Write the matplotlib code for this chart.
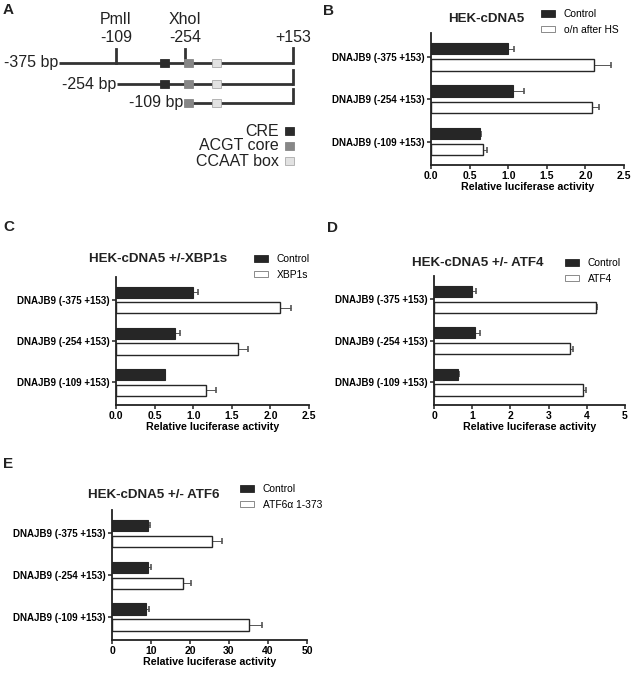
import matplotlib
matplotlib.use("Agg")
import matplotlib.pyplot as plt
from matplotlib.patches import Patch, Rectangle
import numpy as np

plt.rcParams["font.family"] = ["Liberation Sans", "DejaVu Sans"]

# ---- data -------------------------------------------------------------
constructs = ["DNAJB9 (-375 +153)", "DNAJB9 (-254 +153)", "DNAJB9 (-109 +153)"]

b_ctrl = [1.00, 1.06, 0.63]
b_ctrl_err = [0.08, 0.15, 0.015]
b_treat = [2.11, 2.08, 0.68]
b_treat_err = [0.22, 0.10, 0.05]

c_ctrl = [1.00, 0.76, 0.63]
c_ctrl_err = [0.065, 0.07, 0.01]
c_treat = [2.13, 1.58, 1.16]
c_treat_err = [0.14, 0.13, 0.14]

d_ctrl = [1.00, 1.07, 0.64]
d_ctrl_err = [0.09, 0.13, 0.01]
d_treat = [4.25, 3.56, 3.91]
d_treat_err = [0.02, 0.09, 0.06]

e_ctrl = [9.2, 9.2, 8.6]
e_ctrl_err = [0.5, 0.7, 0.8]
e_treat = [25.6, 18.3, 35.0]
e_treat_err = [2.5, 1.9, 3.4]

# schematic for panel A (drawing units = pixels of the panel)
promoter_labels = ["-375 bp", "-254 bp", "-109 bp"]
promoter_start = [59, 117, 184]
promoter_row = [63, 84, 103]
promoter_end = 293
site_names = ["PmlI", "XhoI"]
site_pos = ["-109", "-254"]
site_x = [116, 185]
elements = ["CRE", "ACGT core", "CCAAT box"]
element_colors = ["#2b2b2b", "#878787", "#e2e2e2"]
element_x = [164, 188, 216]
element_rows = [[0, 1], [0, 1, 2], [0, 1, 2]]

W, H = 633, 674
fig = plt.figure(figsize=(W / 100, H / 100), dpi=100)


def px_axes(left, top, right, bottom):
    return fig.add_axes([left / W, 1 - bottom / H, (right - left) / W, (bottom - top) / H])


# ---- panel A ----------------------------------------------------------
axa = px_axes(0, 0, 320, 200)
axa.set_xlim(0, 320)
axa.set_ylim(200, 0)
axa.axis("off")
fs_a = 11.5
for i, (lab, x0, y) in enumerate(zip(promoter_labels, promoter_start, promoter_row)):
    axa.plot([x0, promoter_end], [y, y], color="#333333", lw=2.0, solid_capstyle="butt", zorder=1)
    axa.plot([promoter_end, promoter_end], [y - 15 if i == 0 else y - 14, y], color="#333333", lw=2.0, zorder=1)
    axa.text(x0 - 1, y, lab, ha="right", va="center", fontsize=fs_a, color="#222222")
for name, pos, x in zip(site_names, site_pos, site_x):
    axa.plot([x, x], [49, promoter_row[0]], color="#333333", lw=2.0, zorder=1)
    axa.text(x, 20, name, ha="center", va="center", fontsize=fs_a, color="#222222")
    axa.text(x, 37, pos, ha="center", va="center", fontsize=fs_a, color="#222222")
axa.text(promoter_end, 37, "+153", ha="center", va="center", fontsize=fs_a, color="#222222")
for name, col, x, rows in zip(elements, element_colors, element_x, element_rows):
    for r in rows:
        axa.add_patch(Rectangle((x - 4.5, promoter_row[r] - 4), 9, 8, facecolor=col,
                                edgecolor="#aaaaaa" if col == "#e2e2e2" else col, lw=0.6, zorder=2))
for k, (name, col) in enumerate(zip(elements, element_colors)):
    y = 131 + 15 * k
    axa.add_patch(Rectangle((285, y - 4), 9, 8, facecolor=col,
                            edgecolor="#aaaaaa" if col == "#e2e2e2" else col, lw=0.6))
    axa.text(279, y, name, ha="right", va="center", fontsize=fs_a, color="#222222")


# ---- bar panels -------------------------------------------------------
def bar_panel(box, ctrl, ctrl_err, treat, treat_err, xmax, step, fmt, title, title_px,
              treat_label, leg_px):
    ax = px_axes(*box)
    y = np.arange(len(constructs))
    off, h = 0.19, 0.27
    ax.barh(y - off, ctrl, height=h, color="#262626", edgecolor="#262626", lw=0.8, zorder=2)
    ax.barh(y + off, treat, height=h, color="white", edgecolor="#262626", lw=1.0, zorder=2)
    ax.errorbar(ctrl, y - off, xerr=[np.zeros(3), ctrl_err], fmt="none", ecolor="#555555",
                elinewidth=0.7, capsize=2.4, capthick=1.2, zorder=1)
    ax.errorbar(treat, y + off, xerr=[np.zeros(3), treat_err], fmt="none", ecolor="#555555",
                elinewidth=0.7, capsize=2.4, capthick=1.2, zorder=1)
    ax.set_ylim(2.55, -0.56)
    ax.set_xlim(0, xmax)
    ticks = np.arange(0, xmax + step / 2, step)
    ax.set_xticks(ticks)
    ax.set_xticklabels([fmt.format(t) for t in ticks], fontsize=7.5, fontweight="bold")
    ax.set_yticks(y)
    ax.set_yticklabels(constructs, fontsize=7.0, fontweight="bold")
    ax.spines[["top", "right"]].set_visible(False)
    for s in ("left", "bottom"):
        ax.spines[s].set_linewidth(1.3)
        ax.spines[s].set_color("#222222")
    ax.tick_params(axis="both", length=3, width=1.1, color="#222222", pad=1.5)
    ax.tick_params(axis="x", pad=1)
    ax.set_xlabel("Relative luciferase activity", fontsize=7.7, fontweight="bold", labelpad=1)
    fig.text(title_px[0] / W, 1 - title_px[1] / H, title, ha="center", va="center",
             fontsize=9.6, fontweight="bold", color="#222222")
    handles = [Patch(facecolor="#262626", edgecolor="#262626", lw=0.6),
               Patch(facecolor="white", edgecolor="#777777", lw=0.6)]
    fig.legend(handles, ["Control", treat_label], loc="upper left",
               bbox_to_anchor=(leg_px[0] / W, 1 - leg_px[1] / H), frameon=False,
               fontsize=7.4, handlelength=1.4, handleheight=0.65, handletextpad=0.8,
               labelspacing=0.55, borderpad=0, borderaxespad=0)
    return ax


bar_panel((431, 33, 624, 165), b_ctrl, b_ctrl_err, b_treat, b_treat_err, 2.5, 0.5, "{:.1f}",
          "HEK-cDNA5", (486, 19), "o/n after HS", (541, 9))
bar_panel((116, 277, 309, 405), c_ctrl, c_ctrl_err, c_treat, c_treat_err, 2.5, 0.5, "{:.1f}",
          "HEK-cDNA5 +/-XBP1s", (158, 259), "XBP1s", (254, 254))
bar_panel((434, 276, 625, 405), d_ctrl, d_ctrl_err, d_treat, d_treat_err, 5, 1, "{:.0f}",
          "HEK-cDNA5 +/- ATF4", (478, 263), "ATF4", (565, 258))
bar_panel((112, 510, 307, 640), e_ctrl, e_ctrl_err, e_treat, e_treat_err, 50, 10, "{:.0f}",
          "HEK-cDNA5 +/- ATF6", (154, 495), "ATF6\u03b1 1-373", (240, 484))

for letter, x, y in [("A", 3, 10), ("B", 323, 11), ("C", 3, 227), ("D", 327, 228), ("E", 3, 464)]:
    fig.text(x / W, 1 - y / H, letter, ha="left", va="center", fontsize=11,
             fontweight="bold", color="#222222")

fig.savefig("out.png", dpi=100)
